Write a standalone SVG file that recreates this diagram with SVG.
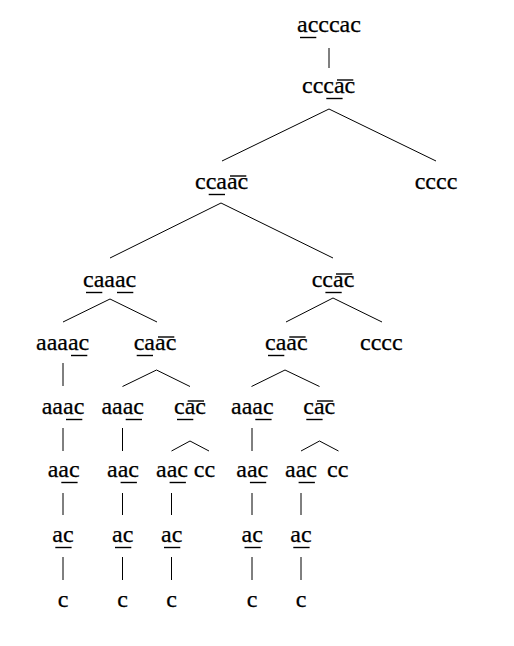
<svg xmlns="http://www.w3.org/2000/svg" width="514" height="646" viewBox="0 0 514 646">
<style>
text{font-family:"Liberation Serif","Times New Roman",serif;font-size:24px;fill:#000;stroke:#000;stroke-width:0.25}
.e line{stroke:#000;stroke-width:1}
.m{stroke:#000;stroke-width:1.4}
</style>
<rect width="514" height="646" fill="#fff"/>
<g id="connectors" class="e">
<line x1="329" y1="48" x2="329" y2="68"/>
<line x1="329" y1="109" x2="222" y2="161"/>
<line x1="329" y1="109" x2="436" y2="161"/>
<line x1="221" y1="203" x2="110" y2="258"/>
<line x1="221" y1="203" x2="333" y2="258"/>
<line x1="110" y1="299" x2="63" y2="322"/>
<line x1="110" y1="299" x2="157" y2="322"/>
<line x1="333" y1="298" x2="286" y2="322"/>
<line x1="333" y1="298" x2="382" y2="322"/>
<line x1="63" y1="363" x2="63" y2="386"/>
<line x1="156.5" y1="370" x2="122.5" y2="386.5"/>
<line x1="156.5" y1="370" x2="190" y2="386.5"/>
<line x1="285" y1="370" x2="251.5" y2="386.5"/>
<line x1="285" y1="370" x2="319.5" y2="386.5"/>
<line x1="63" y1="428" x2="63" y2="451"/>
<line x1="122.5" y1="428" x2="122.5" y2="451"/>
<line x1="190" y1="441" x2="171.5" y2="451"/>
<line x1="190" y1="441" x2="209" y2="451"/>
<line x1="252" y1="428" x2="252" y2="451"/>
<line x1="319.5" y1="441" x2="301" y2="451"/>
<line x1="319.5" y1="441" x2="338.5" y2="451"/>
<line x1="63" y1="493" x2="63" y2="515"/>
<line x1="122.5" y1="493" x2="122.5" y2="515"/>
<line x1="171.5" y1="493" x2="171.5" y2="515"/>
<line x1="252" y1="493" x2="252" y2="515"/>
<line x1="301" y1="493" x2="301" y2="515"/>
<line x1="63" y1="557" x2="63" y2="580"/>
<line x1="122.5" y1="557" x2="122.5" y2="580"/>
<line x1="171.5" y1="557" x2="171.5" y2="580"/>
<line x1="252" y1="557" x2="252" y2="580"/>
<line x1="301" y1="557" x2="301" y2="580"/>
</g>
<g id="n1"><text x="297" y="32">acccac</text><line class="m" x1="300" y1="37.5" x2="316.3" y2="37.5"/></g>
<g id="n2"><text x="302" y="93">cccac</text><line class="m" x1="326.3" y1="98.5" x2="342.6" y2="98.5"/><line class="m" x1="337" y1="80" x2="353.3" y2="80"/></g>
<g id="n3"><text x="195" y="189">ccaac</text><line class="m" x1="208.7" y1="194.5" x2="225" y2="194.5"/><line class="m" x1="230" y1="176" x2="246.3" y2="176"/></g>
<g id="n4"><text x="414.7" y="189">cccc</text></g>
<g id="n5"><text x="83" y="287">caaac</text><line class="m" x1="86" y1="292.5" x2="102.3" y2="292.5"/><line class="m" x1="117" y1="292.5" x2="133.3" y2="292.5"/></g>
<g id="n6"><text x="311.7" y="287">ccac</text><line class="m" x1="325.4" y1="292.5" x2="341.7" y2="292.5"/><line class="m" x1="336" y1="274" x2="352.3" y2="274"/></g>
<g id="n7"><text x="36" y="350">aaaac</text><line class="m" x1="71" y1="355.5" x2="87.3" y2="355.5"/></g>
<g id="n8"><text x="133.7" y="350">caac</text><line class="m" x1="136.7" y1="355.5" x2="153" y2="355.5"/><line class="m" x1="158" y1="337" x2="174.3" y2="337"/></g>
<g id="n9"><text x="265" y="350">caac</text><line class="m" x1="268" y1="355.5" x2="284.3" y2="355.5"/><line class="m" x1="289.3" y1="337" x2="305.6" y2="337"/></g>
<g id="n10"><text x="360" y="350">cccc</text></g>
<g id="n11"><text x="41.7" y="414">aaac</text><line class="m" x1="66" y1="419.5" x2="82.3" y2="419.5"/></g>
<g id="n12"><text x="101.4" y="414">aaac</text><line class="m" x1="125.7" y1="419.5" x2="142" y2="419.5"/></g>
<g id="n13"><text x="174" y="414">cac</text><line class="m" x1="177" y1="419.5" x2="193.3" y2="419.5"/><line class="m" x1="187.7" y1="401" x2="204" y2="401"/></g>
<g id="n14"><text x="231" y="414">aaac</text><line class="m" x1="255.3" y1="419.5" x2="271.6" y2="419.5"/></g>
<g id="n15"><text x="303.3" y="414">cac</text><line class="m" x1="306.3" y1="419.5" x2="322.6" y2="419.5"/><line class="m" x1="317" y1="401" x2="333.3" y2="401"/></g>
<g id="n16"><text x="47.7" y="477">aac</text><line class="m" x1="61.3" y1="482.5" x2="77.6" y2="482.5"/></g>
<g id="n17"><text x="107" y="477">aac</text><line class="m" x1="120.6" y1="482.5" x2="136.9" y2="482.5"/></g>
<g id="n18"><text x="156" y="477">aac</text><line class="m" x1="169.6" y1="482.5" x2="185.9" y2="482.5"/></g>
<g id="n19"><text x="193.8" y="477">cc</text></g>
<g id="n20"><text x="236.3" y="477">aac</text><line class="m" x1="249.9" y1="482.5" x2="266.2" y2="482.5"/></g>
<g id="n21"><text x="285" y="477">aac</text><line class="m" x1="298.6" y1="482.5" x2="314.9" y2="482.5"/></g>
<g id="n22"><text x="327" y="477">cc</text></g>
<g id="n23"><text x="52.3" y="542">ac</text><line class="m" x1="55.3" y1="547.5" x2="71.6" y2="547.5"/></g>
<g id="n24"><text x="112" y="542">ac</text><line class="m" x1="115" y1="547.5" x2="131.3" y2="547.5"/></g>
<g id="n25"><text x="161" y="542">ac</text><line class="m" x1="164" y1="547.5" x2="180.3" y2="547.5"/></g>
<g id="n26"><text x="241.5" y="542">ac</text><line class="m" x1="244.5" y1="547.5" x2="260.8" y2="547.5"/></g>
<g id="n27"><text x="290.3" y="542">ac</text><line class="m" x1="293.3" y1="547.5" x2="309.6" y2="547.5"/></g>
<g id="n28"><text x="57.7" y="607">c</text></g>
<g id="n29"><text x="117.2" y="607">c</text></g>
<g id="n30"><text x="166.2" y="607">c</text></g>
<g id="n31"><text x="246.7" y="607">c</text></g>
<g id="n32"><text x="295.7" y="607">c</text></g>
</svg>
